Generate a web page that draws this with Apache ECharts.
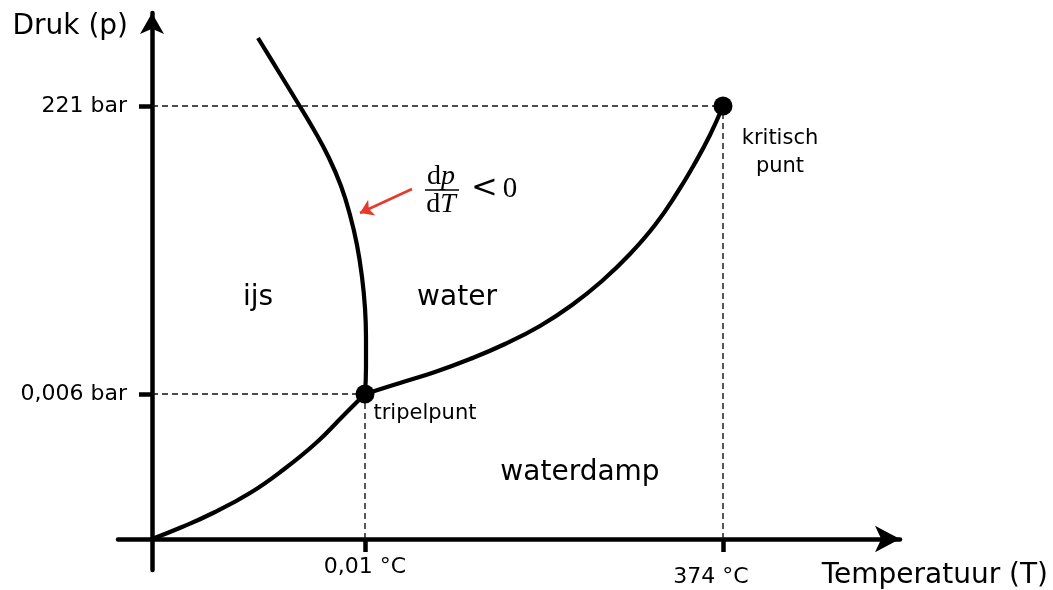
<!DOCTYPE html>
<html><head><meta charset="utf-8">
<script src="https://cdn.jsdelivr.net/npm/echarts@6/dist/echarts.min.js"></script>
<style>html,body{margin:0;padding:0;background:#fff}#c{width:1053px;height:590px}</style>
</head><body><div id="c"></div>
<script>
// Schematic phase diagram of water, abstract units (T horizontal, p vertical)
const meltCurve = [[106,501],[125,470],[144,439],[162,409],[177,381],[189,353],[198,324],[205,294],[210,262],[213,231],[214,201],[214,172],[213,145]];
const vapCurve = [[213,145],[248,156],[283,167],[318,180],[353,195],[388,213],[420,234],[450,258],[478,285],[503,314],[525,346],[543,376],[558,404],[571,433]];
const sublCurve = [[0,0],[30,12],[61,26],[98,46],[131,69],[164,96],[191,123],[213,145]];
const triplePoint = [213,145];
const criticalPoint = [571,433];
const xTickValues = [213,571];
const xTickLabels = ['0,01 °C','374 °C'];
const yTickValues = [145,433];
const yTickLabels = ['0,006 bar','221 bar'];
const regionNames = ['ijs','water','waterdamp'];
const regionAnchors = [[106,241],[305,241],[428,66]];
const pointNames = ['tripelpunt','kritisch\npunt'];
const slopeArrow = [[260,350],[208,326]];
const slopeLabelAnchor = [290,349];

const FONT = 'DejaVu Sans';
const chart = echarts.init(document.getElementById('c'), null, {renderer:'canvas'});

const curveStyle = {color:'#000', width:4.2, opacity:1};
const dashStyle = {color:'#111', width:1.4, type:[6,4], opacity:1};

function curve(data){
  return {type:'line', data:data, smooth:0.45, symbol:'none', lineStyle:curveStyle, z:3, silent:true};
}
function guide(data){
  return {type:'line', data:data, symbol:'none', lineStyle:dashStyle, z:2, silent:true};
}

const titleTexts = [
  {type:'text', style:{text:'Druk (p)', x:128, y:27, align:'right', verticalAlign:'middle', fontFamily:FONT, fontSize:28, fill:'#000'}},
  {type:'text', style:{text:'Temperatuur (T)', x:1048, y:576, align:'right', verticalAlign:'middle', fontFamily:FONT, fontSize:28, fill:'#000'}}
];

const option = {
  animation:false,
  backgroundColor:'#fff',
  grid:{left:118, right:153, top:13, bottom:20, containLabel:false, outerBoundsMode:'none'},
  xAxis:{
    type:'value', min:-34, max:748,
    axisLine:{onZero:true, lineStyle:{color:'#000', width:4.5}, symbol:['none','arrow'], symbolSize:[20,25]},
    splitLine:{show:false},
    axisTick:{show:true, customValues:xTickValues, length:13, lineStyle:{color:'#000', width:4.5}},
    axisLabel:{
      customValues:xTickValues, margin:-14, color:'#000', fontFamily:FONT, fontSize:22,
      formatter:function(v){const i=xTickValues.indexOf(v); return '{t'+i+'|'+xTickLabels[i]+'}';},
      rich:{t0:{fontFamily:FONT, fontSize:22, color:'#000'}, t1:{fontFamily:FONT, fontSize:22, color:'#000', padding:[10,24,0,0]}}
    }
  },
  yAxis:{
    type:'value', min:-31, max:526,
    axisLine:{onZero:true, lineStyle:{color:'#000', width:4.5}, symbol:['none','arrow'], symbolSize:[18,21]},
    splitLine:{show:false},
    axisTick:{show:true, customValues:yTickValues, length:13, lineStyle:{color:'#000', width:4.5}},
    axisLabel:{
      customValues:yTickValues, margin:-9, color:'#000', fontFamily:FONT, fontSize:22,
      formatter:function(v){return yTickLabels[yTickValues.indexOf(v)];}
    }
  },
  series:[
    guide([[0,triplePoint[1]], triplePoint]),
    guide([[triplePoint[0],0], triplePoint]),
    guide([[0,criticalPoint[1]], criticalPoint]),
    guide([[criticalPoint[0],0], criticalPoint]),
    curve(sublCurve),
    curve(meltCurve),
    curve(vapCurve),
    {
      type:'lines', coordinateSystem:'cartesian2d', silent:true, z:4,
      symbol:['none','arrow'], symbolSize:13,
      lineStyle:{color:'#e8392b', width:2.5, opacity:1},
      data:[{coords:slopeArrow}]
    },
    {
      type:'scatter', symbol:'circle', symbolSize:19, itemStyle:{color:'#000', opacity:1}, z:5, silent:true,
      data:[
        {value:triplePoint, name:pointNames[0], label:{show:true, position:'right', offset:[-6,20], align:'left'}},
        {value:criticalPoint, name:pointNames[1], label:{show:true, position:'inside', offset:[57,47], align:'center', lineHeight:28}}
      ],
      label:{formatter:'{b}', color:'#000', opacity:1, fontFamily:FONT, fontSize:21}
    },
    {
      type:'scatter', symbolSize:0, silent:true, z:5, itemStyle:{opacity:1},
      data:regionNames.map(function(n,i){return {value:regionAnchors[i], name:n};}),
      label:{show:true, position:'inside', formatter:'{b}', color:'#000', opacity:1, fontFamily:FONT, fontSize:28}
    }
  ],
  graphic:titleTexts
};
chart.setOption(option);

// dp/dT < 0 annotation, anchored at a data position
const a = chart.convertToPixel({gridIndex:0}, slopeLabelAnchor);
const serifRich = {
  n:{fontFamily:'Liberation Serif', fontSize:28, fill:'#000', color:'#000'},
  i:{fontFamily:'Liberation Serif', fontSize:28, fontStyle:'italic', fill:'#000', color:'#000'}
};
const relRich = {
  lt:{fontFamily:'DejaVu Serif', fontSize:32, fill:'#000', color:'#000', padding:[0,5,0,0]},
  z:{fontFamily:'Liberation Serif', fontSize:29, fill:'#000', color:'#000'}
};
chart.setOption({graphic:titleTexts.concat([
  {type:'text', style:{text:'{n|d}{i|p}', rich:serifRich, x:a[0]-1, y:a[1]-13, align:'center', verticalAlign:'middle'}},
  {type:'rect', shape:{x:a[0]-17, y:a[1]-0.75, width:34, height:1.5}, style:{fill:'#000'}},
  {type:'text', style:{text:'{n|d}{i|T}', rich:serifRich, x:a[0]-1, y:a[1]+15, align:'center', verticalAlign:'middle'}},
  {type:'text', style:{text:'{lt|<}{z|0}', rich:relRich, x:a[0]+29, y:a[1]-1, align:'left', verticalAlign:'middle'}}
])});
</script>
</body></html>
